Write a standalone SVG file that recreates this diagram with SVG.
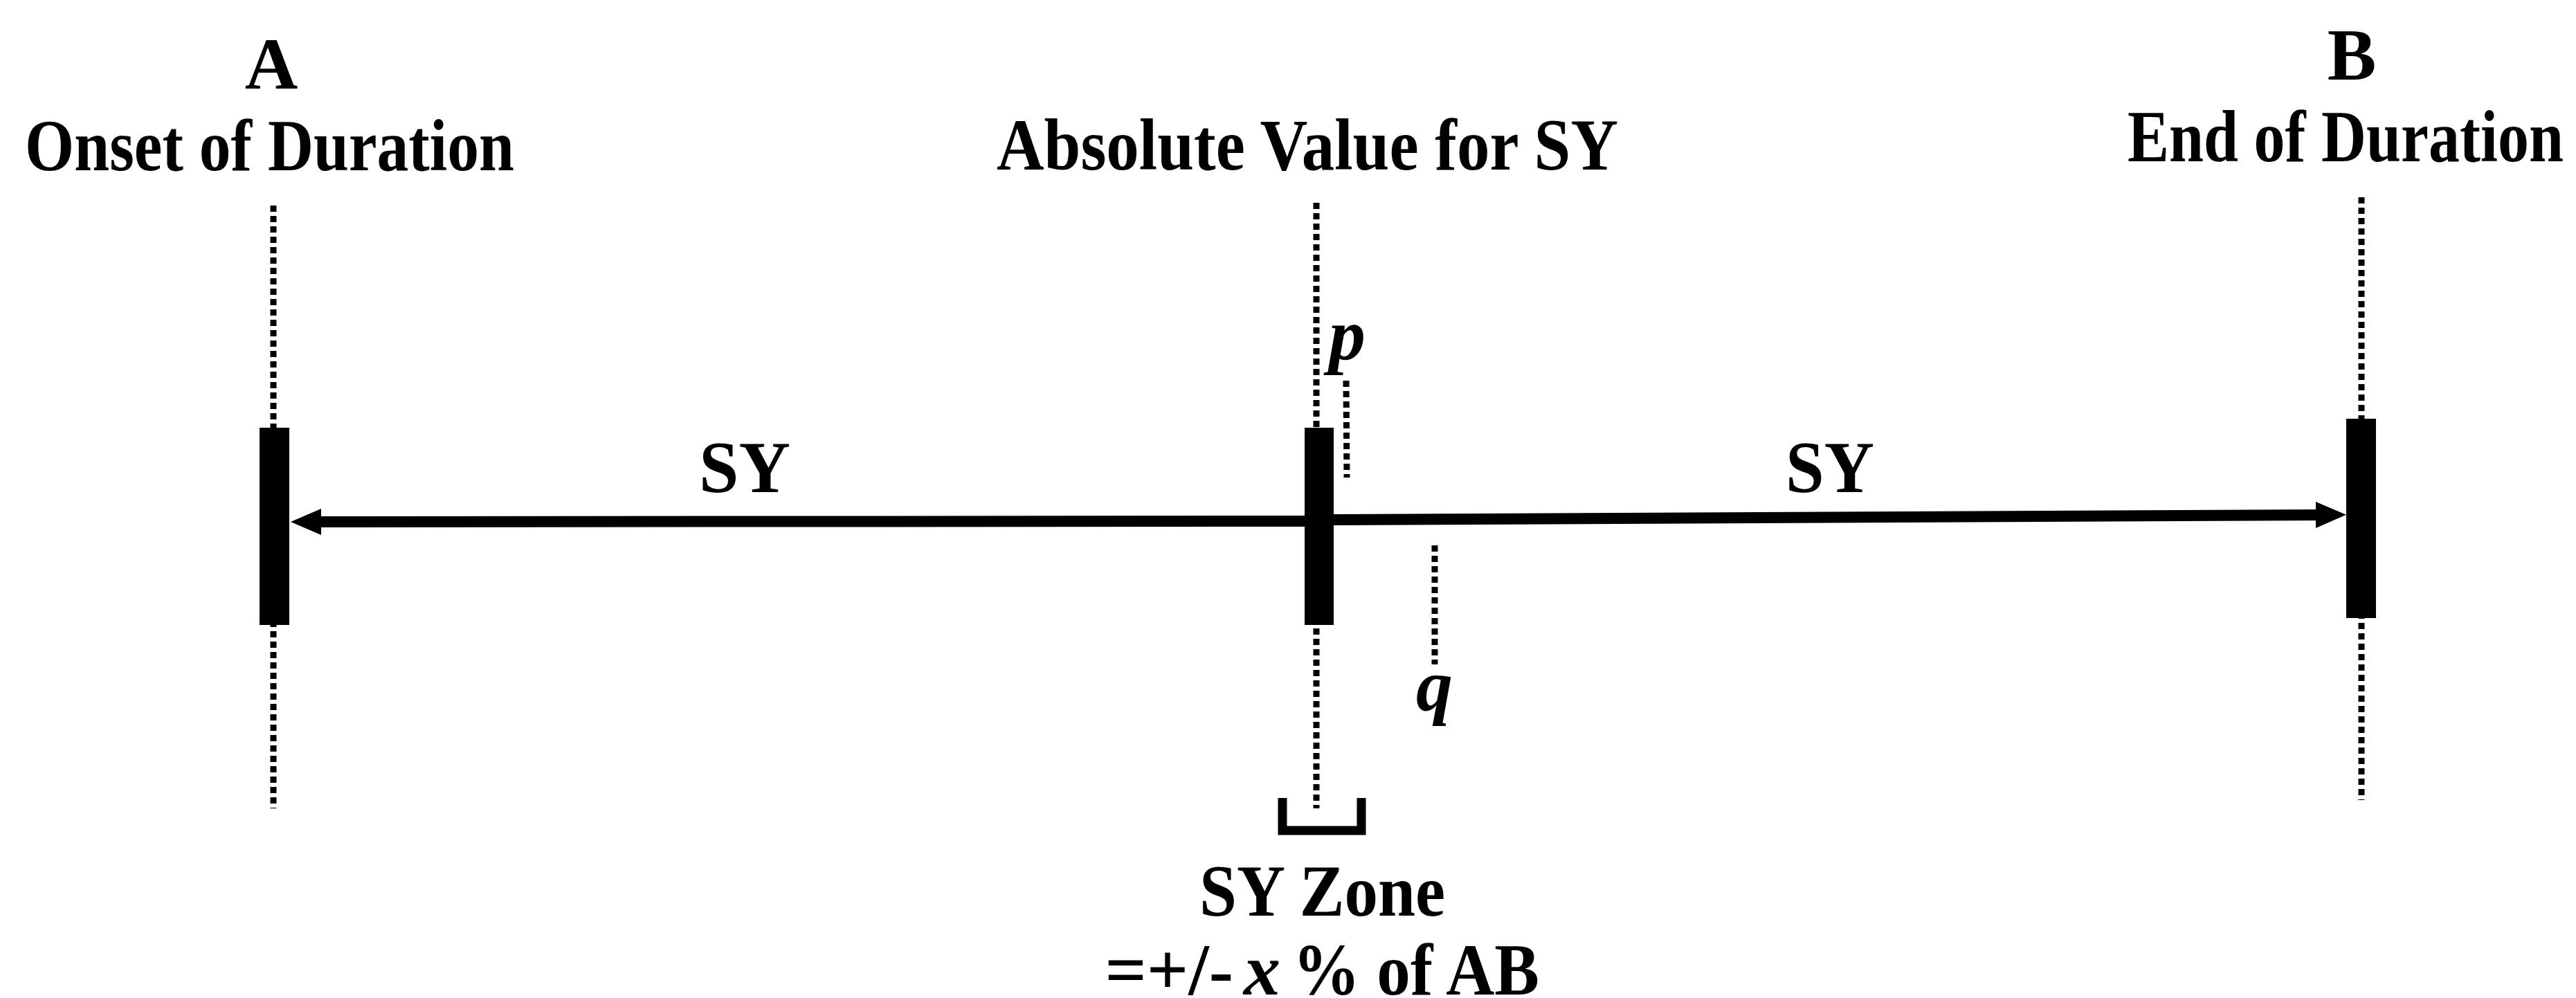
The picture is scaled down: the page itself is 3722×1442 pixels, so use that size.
<svg xmlns="http://www.w3.org/2000/svg" width="3722" height="1442" viewBox="0 0 3722 1442">
<style>
text{font-family:"Liberation Serif","Times New Roman",serif;font-weight:bold;font-size:106px;fill:#000}
.it{font-style:italic}
.dot{stroke:#000;stroke-width:9;stroke-dasharray:9 6;fill:none}
.bar{fill:#000}
.ln{stroke:#000;stroke-width:16;fill:none}
</style>
<defs>
<marker id="ah" markerUnits="userSpaceOnUse" markerWidth="46" markerHeight="42" viewBox="0 0 46 42" refX="14" refY="21" orient="auto">
<path d="M0,2 L44,21 L0,40 z" fill="#000"/>
</marker>
</defs>
<rect width="3722" height="1442" fill="#fff"/>
<g id="guides">
<line class="dot" x1="395" y1="297" x2="395" y2="1168"/>
<line class="dot" x1="1902" y1="293" x2="1902" y2="1168"/>
<line class="dot" x1="3412" y1="285" x2="3412" y2="1156"/>
<line class="dot" x1="1945" y1="550" x2="1946" y2="690"/>
<line class="dot" x1="2073" y1="788" x2="2073" y2="960"/>
</g>
<g id="connectors">
<line class="ln" x1="1885" y1="753" x2="450" y2="754" marker-end="url(#ah)"/>
<line class="ln" x1="1927" y1="751" x2="3360" y2="744" marker-end="url(#ah)"/>
</g>
<g id="nodeA">
<rect class="bar" x="375" y="618" width="43" height="285"/>
<text x="392" y="128" text-anchor="middle">A</text>
<text x="36" y="246" textLength="707" lengthAdjust="spacingAndGlyphs">Onset of Duration</text>
</g>
<g id="nodeMid">
<rect class="bar" x="1885" y="618" width="42" height="285"/>
<text x="1440" y="245" textLength="898" lengthAdjust="spacingAndGlyphs">Absolute Value for SY</text>
<text class="it" x="1920" y="519">p</text>
<text class="it" x="2046" y="1026">q</text>
</g>
<g id="nodeB">
<rect class="bar" x="3390" y="605" width="43" height="288"/>
<text x="3398" y="115" text-anchor="middle">B</text>
<text x="3074" y="233" textLength="630" lengthAdjust="spacingAndGlyphs">End of Duration</text>
</g>
<g id="labels">
<text x="1010" y="711" textLength="132" lengthAdjust="spacingAndGlyphs">SY</text>
<text x="2580" y="711" textLength="128" lengthAdjust="spacingAndGlyphs">SY</text>
</g>
<g id="zone">
<path d="M1853,1153 V1200 H1967 V1153" stroke="#000" stroke-width="13" fill="none"/>
<text x="1733" y="1323" textLength="355" lengthAdjust="spacingAndGlyphs">SY Zone</text>
<text x="1782" y="1437" text-anchor="end">=+/-</text>
<text class="it" x="1797" y="1437">x</text>
<text x="1868" y="1437" textLength="356" lengthAdjust="spacingAndGlyphs">% of AB</text>
</g>
</svg>
